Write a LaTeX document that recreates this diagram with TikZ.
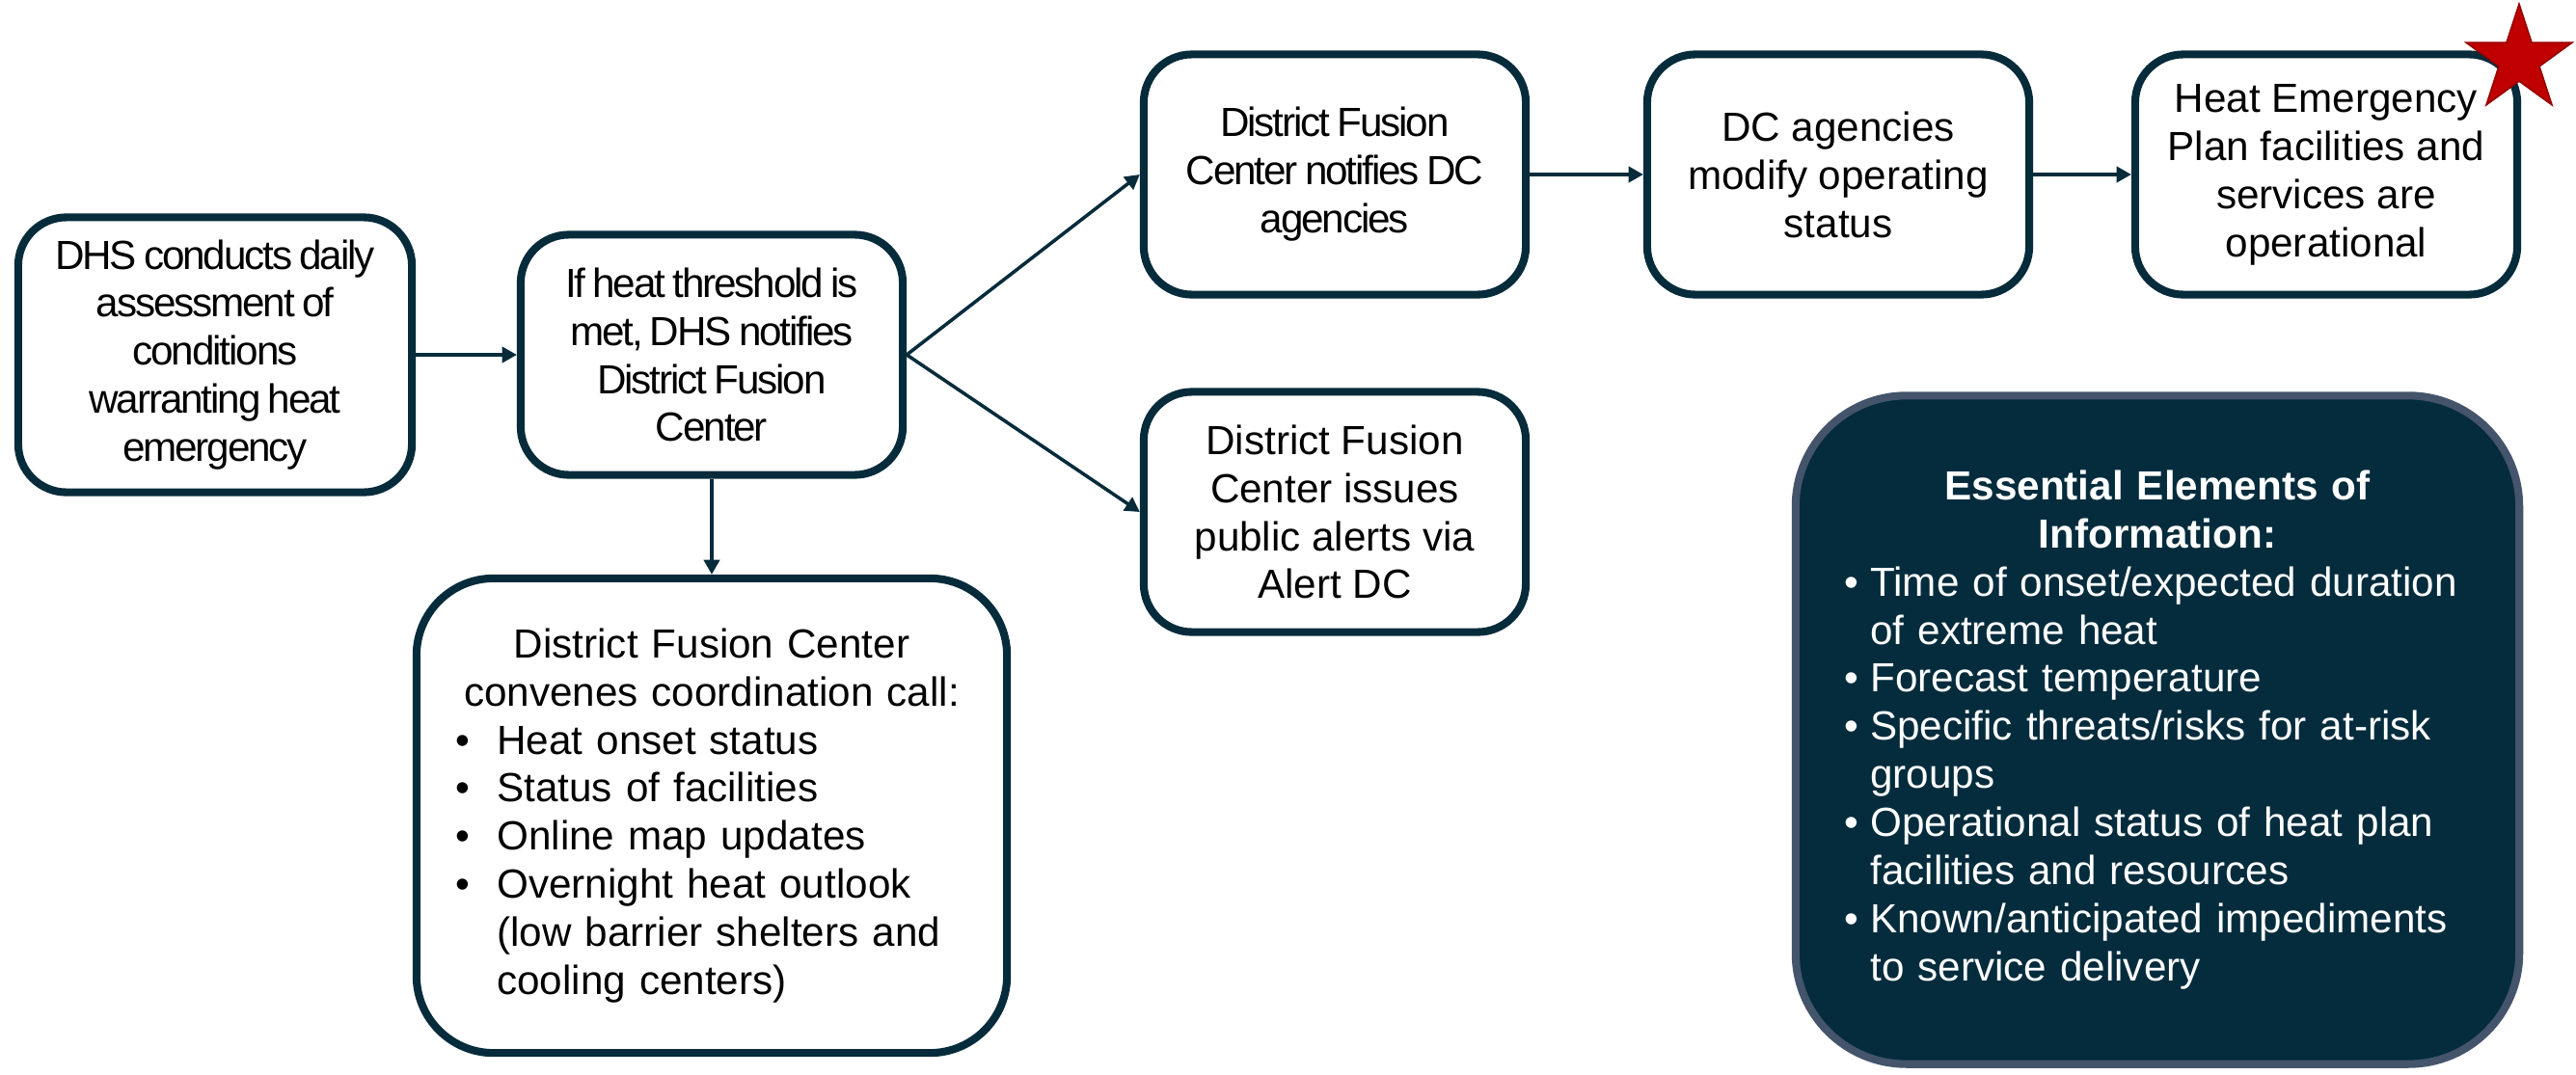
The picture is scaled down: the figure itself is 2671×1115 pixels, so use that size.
\documentclass[tikz,border=0pt]{standalone}
\usepackage{fontspec}
\setmainfont{Liberation Sans}
\newfontfamily\tightfont[LetterSpace=-5, WordSpace=0.75]{Liberation Sans}
\usepackage{enumitem}
\usepackage{xcolor}
\usetikzlibrary{arrows.meta}
\definecolor{navy}{HTML}{062B3B}
\definecolor{eeifill}{HTML}{042C3D}
\definecolor{eeiedge}{HTML}{44546A}
\definecolor{starred}{HTML}{C00000}

\begin{document}
\begin{tikzpicture}[x=0.01cm, y=-0.01cm,
    box/.style={draw=navy, line width=2.3pt, rounded corners=0.5cm, fill=white, align=center,
      inner sep=0pt, minimum width=3.96cm, minimum height=2.49cm, font=\fontsize{12}{14.2}\selectfont},
    tight/.style={font=\fontsize{12}{14.2}\selectfont\tightfont},
    flow/.style={draw=navy, line width=1pt, -{Triangle[length=4.3pt,width=4.6pt]}}]
              \useasboundingbox (0,0) rectangle (2671,1115);

              \draw (223,368) node[box, tight, minimum width=4.08cm, minimum height=2.85cm]   (assess) {DHS conducts daily\\ assessment of\\ conditions\\ warranting heat\\ emergency};
              \draw (738,368) node[box, tight]                  (notify) {If heat threshold is\\ met, DHS notifies\\ District Fusion\\ Center};
              \draw (1384,181) node[box, tight]                 (dcnotify) {District Fusion\\ Center notifies DC\\ agencies};
              \draw (1906,181) node[box]                        (modify) {DC agencies\\ modify operating\\ status};
              \draw (2412,181) node[box]                        (operate) {Heat Emergency\\ Plan facilities and\\ services are\\ operational};
              \draw (1384,531) node[box]                        (alerts) {District Fusion\\ Center issues\\ public alerts via\\ Alert DC};
              \draw (738,846) node[box, align=left, rounded corners=0.8cm, minimum width=6.12cm, minimum height=4.92cm, text width=5.35cm] (convene)
                {{\centering District Fusion Center\\ convenes coordination call:\par}
                 \begin{itemize}[nosep, leftmargin=0.45cm, labelsep=0.28cm]
                 \item Heat onset status
                 \item Status of facilities
                 \item Online map updates
                 \item Overnight heat outlook\newline (low barrier shelters and\newline cooling centers)
                 \end{itemize}};
              \draw (2237,757) node[box, draw=eeiedge, fill=eeifill, text=white, align=left, rounded corners=1.15cm,
                  minimum width=7.5cm, minimum height=6.93cm, text width=6.55cm] (eei)
                {{\centering\bfseries Essential Elements of\\ Information:\par}
                 \begin{itemize}[nosep, leftmargin=0.3cm, labelsep=0.12cm]
                 \item Time of onset/expected duration\newline of extreme heat
                 \item Forecast temperature
                 \item Specific threats/risks for at-risk\newline groups
                 \item Operational status of heat plan\newline facilities and resources
                 \item Known/anticipated impediments\newline to service delivery
                 \end{itemize}};
              \filldraw[fill=starred, draw=starred!80!black, line width=0.5pt] (2612,62) +(90:0.575cm) -- +(126:0.22cm)
                -- +(162:0.575cm) -- +(198:0.22cm) -- +(234:0.575cm) -- +(270:0.22cm)
                -- +(306:0.575cm) -- +(342:0.22cm) -- +(18:0.575cm) -- +(54:0.22cm) -- cycle;

              \draw[flow] (assess) -- (notify);
              \draw[flow] (notify.east) -- (dcnotify.west);
              \draw[flow] (notify.east) -- (alerts.west);
              \draw[flow] (notify) -- (convene);
              \draw[flow] (dcnotify) -- (modify);
              \draw[flow] (modify) -- (operate);
\end{tikzpicture}
\end{document}
